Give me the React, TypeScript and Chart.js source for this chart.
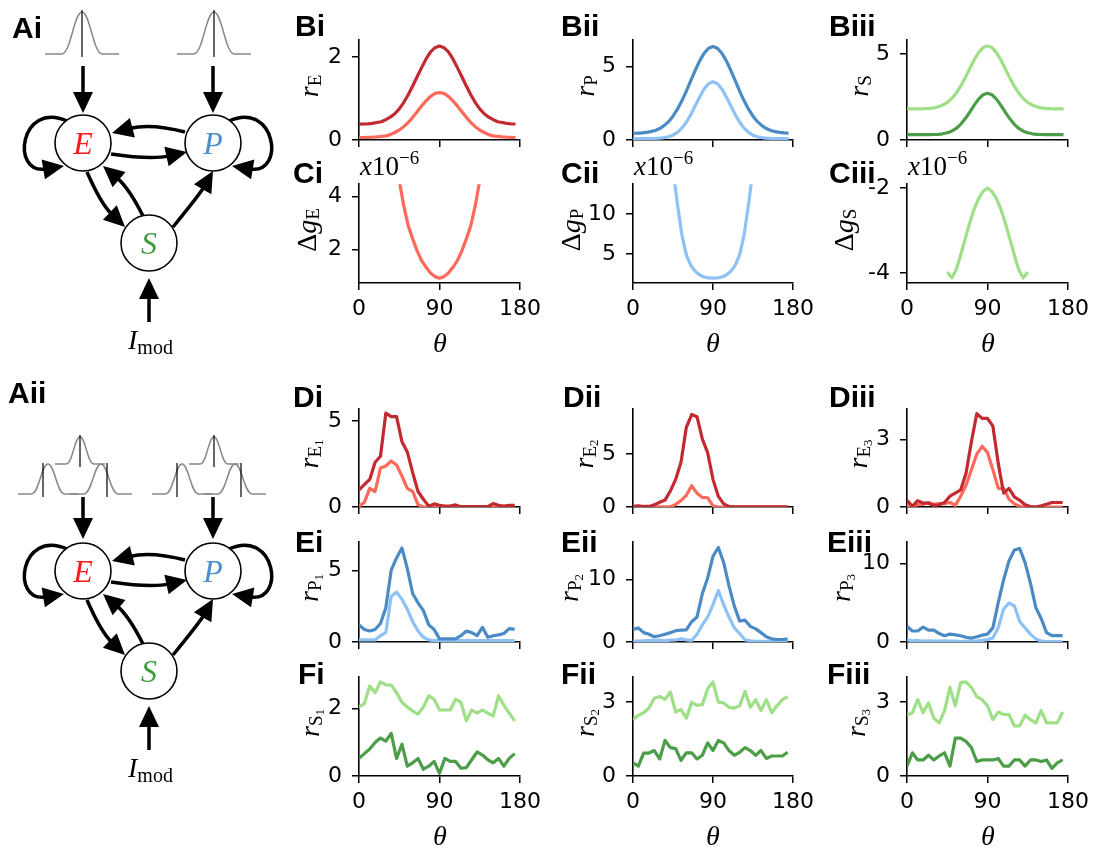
import React, { useEffect, useRef } from 'react';
import { Chart, registerables } from 'chart.js';
Chart.register(...registerables);

// ---------------- data ----------------
const thetaSmooth = [0, 5, 10, 15, 20, 25, 30, 35, 40, 45, 50, 55, 60, 65, 70, 75, 80, 85, 90, 95, 100, 105, 110, 115, 120, 125, 130, 135, 140, 145, 150, 155, 160, 165, 170, 175];
const thetaC = [45, 50, 55, 60, 65, 70, 75, 80, 85, 90, 95, 100, 105, 110, 115, 120, 125, 130, 135];
const thetaN = [0, 6, 12, 18, 24, 30, 36, 42, 48, 54, 60, 66, 72, 78, 84, 90, 96, 102, 108, 114, 120, 126, 132, 138, 144, 150, 156, 162, 168, 174];
const xTicks = [0, 90, 180];

// B: mean responses
const bE_dark = [0.38, 0.385, 0.39, 0.40, 0.42, 0.44, 0.49, 0.55, 0.63, 0.75, 0.90, 1.09, 1.30, 1.52, 1.74, 1.95, 2.12, 2.22, 2.26, 2.22, 2.12, 1.95, 1.74, 1.52, 1.30, 1.09, 0.90, 0.75, 0.63, 0.55, 0.49, 0.44, 0.42, 0.40, 0.39, 0.385];
const bE_light = [0.06, 0.06, 0.065, 0.068, 0.074, 0.085, 0.10, 0.13, 0.18, 0.24, 0.32, 0.42, 0.545, 0.68, 0.82, 0.94, 1.05, 1.12, 1.14, 1.12, 1.05, 0.94, 0.82, 0.68, 0.545, 0.42, 0.32, 0.24, 0.18, 0.13, 0.10, 0.085, 0.074, 0.068, 0.065, 0.06];
const bP_dark = [0.46, 0.47, 0.49, 0.52, 0.57, 0.65, 0.78, 0.98, 1.25, 1.62, 2.10, 2.67, 3.33, 4.04, 4.75, 5.39, 5.91, 6.25, 6.37, 6.25, 5.91, 5.39, 4.75, 4.04, 3.33, 2.67, 2.10, 1.62, 1.25, 0.98, 0.78, 0.65, 0.57, 0.52, 0.49, 0.47];
const bP_light = [0.1, 0.1, 0.1, 0.1, 0.1, 0.11, 0.13, 0.16, 0.22, 0.33, 0.52, 0.81, 1.21, 1.73, 2.33, 2.93, 3.47, 3.84, 3.97, 3.84, 3.47, 2.93, 2.33, 1.73, 1.21, 0.81, 0.52, 0.33, 0.22, 0.16, 0.13, 0.11, 0.1, 0.1, 0.1, 0.1];
const bS_light = [1.81, 1.81, 1.81, 1.81, 1.82, 1.84, 1.87, 1.93, 2.03, 2.18, 2.41, 2.72, 3.13, 3.61, 4.13, 4.65, 5.08, 5.37, 5.47, 5.37, 5.08, 4.65, 4.13, 3.61, 3.13, 2.72, 2.41, 2.18, 2.03, 1.93, 1.87, 1.84, 1.82, 1.81, 1.81, 1.81];
const bS_dark = [0.31, 0.31, 0.31, 0.31, 0.31, 0.315, 0.32, 0.33, 0.36, 0.42, 0.51, 0.67, 0.91, 1.23, 1.61, 2.01, 2.38, 2.63, 2.72, 2.63, 2.38, 2.01, 1.61, 1.23, 0.91, 0.67, 0.51, 0.42, 0.36, 0.33, 0.32, 0.315, 0.31, 0.31, 0.31, 0.31];

// C: conductance changes (x1e-6)
const cE = [4.6, 3.65, 2.9, 2.4, 1.95, 1.58, 1.33, 1.12, 0.98, 0.92, 0.98, 1.12, 1.33, 1.58, 1.95, 2.4, 2.9, 3.65, 4.6];
const cP = [15.5, 11.2, 7.4, 4.9, 3.6, 2.85, 2.4, 2.15, 2.03, 2.0, 2.03, 2.15, 2.4, 2.85, 3.6, 4.9, 7.4, 11.2, 15.5];
const cS = [-3.98, -4.12, -3.93, -3.58, -3.2, -2.83, -2.5, -2.25, -2.08, -2.0, -2.08, -2.25, -2.5, -2.83, -3.2, -3.58, -3.93, -4.12, -3.98];

// D: E responses
const dE1_dark = [0.99, 1.3, 1.6, 2.6, 2.95, 5.45, 5.25, 5.25, 3.8, 3.2, 2.0, 0.9, 0.45, 0.05, 0.18, 0.1, 0.05, 0.05, 0.12, 0.02, 0.02, 0.02, 0.02, 0.02, 0.02, 0.2, 0.1, 0.05, 0.1, 0.1];
const dE1_light = [0.04, 0.27, 1.08, 0.9, 2.26, 2.38, 2.67, 2.44, 1.8, 1.08, 0.9, 0.14, 0, 0, 0, 0, 0, 0, 0, 0, 0, 0, 0, 0, 0, 0, 0, 0, 0, 0];
const dE2_dark = [0.05, 0.12, 0.05, 0.05, 0.2, 0.45, 0.65, 1.5, 2.6, 4.2, 7.5, 8.7, 8.5, 6.4, 5.1, 2.6, 1.0, 0.3, 0.05, 0.02, 0.02, 0.02, 0.02, 0.02, 0.02, 0.02, 0.02, 0.02, 0.02, 0.02];
const dE2_light = [0.02, 0.02, 0.02, 0.02, 0.02, 0.02, 0.02, 0.02, 0.25, 0.6, 1.1, 2.0, 1.3, 0.9, 0.87, 0.1, 0, 0, 0, 0, 0, 0, 0, 0, 0, 0, 0, 0, 0, 0];
const dE3_dark = [0.3, 0.03, 0.28, 0.17, 0.17, 0.07, 0.1, 0.2, 0.48, 0.62, 0.76, 1.5, 2.9, 4.15, 3.94, 3.94, 3.6, 1.94, 0.62, 0.83, 0.45, 0.3, 0.1, 0.02, 0.0, 0.05, 0.12, 0.2, 0.2, 0.2];
const dE3_light = [0.07, 0.05, 0.1, 0.12, 0.2, 0.12, 0.15, 0.15, 0.2, 0.07, 0.48, 0.97, 1.66, 2.35, 2.7, 2.42, 1.66, 0.83, 0.83, 0.35, 0.14, 0.03, 0, 0, 0, 0, 0, 0, 0, 0];

// E: P responses
const eP1_dark = [1.2, 0.88, 0.77, 0.88, 1.3, 2.4, 5.04, 5.9, 6.6, 5.15, 3.4, 2.74, 2.2, 1.2, 0.88, 0.22, 0.22, 0.22, 0.22, 0.44, 0.77, 0.66, 0.44, 1.03, 0.33, 0.44, 0.5, 0.6, 0.94, 0.88];
const eP1_light = [0.15, 0.15, 0.15, 0.15, 0.44, 0.66, 3.2, 3.5, 3.0, 2.3, 1.43, 0.77, 0.33, 0.15, 0.1, 0.1, 0.1, 0.1, 0.1, 0.1, 0.1, 0.1, 0.1, 0.1, 0.1, 0.1, 0.1, 0.1, 0.1, 0.1];
const eP2_dark = [2.0, 2.25, 1.5, 1.25, 0.85, 1.0, 1.25, 1.5, 1.8, 1.9, 1.95, 3.25, 4.0, 7.75, 10.25, 13.75, 15.15, 12.75, 9.0, 5.75, 3.35, 3.5, 2.5, 2.1, 1.5, 0.85, 0.5, 0.4, 0.4, 0.5];
const eP2_light = [0.15, 0.15, 0.2, 0.25, 0.25, 0.3, 0.2, 0.3, 0.35, 0.5, 0.35, 0.25, 1.25, 2.75, 4.0, 6.0, 8.25, 6.0, 4.0, 2.25, 1.35, 0.35, 0.2, 0.1, 0.1, 0.1, 0.1, 0.1, 0.1, 0.1];
const eP3_dark = [2.0, 1.4, 1.4, 1.9, 1.5, 1.5, 1.07, 0.8, 1.0, 0.9, 0.8, 0.6, 0.5, 0.67, 0.87, 1.0, 1.8, 5.0, 7.9, 10.3, 11.7, 11.9, 10.1, 7.5, 4.4, 3.0, 1.2, 0.8, 0.8, 0.8];
const eP3_light = [0.28, 0.15, 0.2, 0.1, 0.15, 0.1, 0.1, 0.15, 0.1, 0.1, 0.05, 0.1, 0.1, 0.15, 0.2, 0.3, 0.5, 1.8, 4.2, 4.96, 4.6, 2.6, 1.8, 1.0, 0.4, 0.1, 0.05, 0.05, 0.05, 0.05];

// F: S responses
const fS1_light = [2.04, 2.14, 2.66, 2.46, 2.78, 2.69, 2.69, 2.46, 2.18, 2.04, 1.92, 1.83, 2.04, 2.37, 2.27, 1.95, 1.95, 1.95, 2.27, 2.18, 1.63, 1.95, 1.86, 1.95, 1.86, 1.77, 2.37, 2.09, 1.86, 1.63];
const fS1_dark = [0.52, 0.66, 0.8, 0.99, 1.12, 1.03, 1.26, 0.52, 0.94, 0.29, 0.39, 0.52, 0.2, 0.29, 0.43, 0.08, 0.52, 0.43, 0.43, 0.23, 0.25, 0.48, 0.71, 0.62, 0.48, 0.39, 0.52, 0.29, 0.52, 0.66];
const fS2_light = [2.28, 2.46, 2.56, 2.75, 3.15, 3.22, 3.1, 3.4, 2.59, 2.69, 2.34, 2.99, 2.86, 2.89, 3.53, 3.81, 2.99, 2.96, 2.78, 2.75, 2.84, 3.43, 2.78, 3.09, 2.65, 3.09, 2.56, 2.84, 3.09, 3.21];
const fS2_dark = [0.53, 0.4, 0.93, 0.93, 1.03, 0.69, 1.44, 1.15, 1.11, 0.63, 0.94, 0.94, 0.69, 0.84, 1.34, 1.03, 1.44, 1.34, 1.03, 0.84, 0.96, 1.15, 1.03, 0.84, 1.03, 0.71, 0.81, 0.81, 0.81, 0.96];
const fS3_light = [2.46, 2.56, 3.09, 2.56, 2.96, 2.34, 2.15, 2.65, 3.59, 2.84, 3.78, 3.81, 3.59, 3.21, 3.09, 2.84, 2.28, 2.59, 2.49, 2.49, 2.03, 2.03, 2.46, 2.28, 2.15, 2.65, 2.15, 2.15, 2.15, 2.59];
const fS3_dark = [0.4, 0.94, 0.65, 0.65, 0.84, 0.65, 0.81, 0.94, 0.4, 1.53, 1.53, 1.4, 1.15, 0.59, 0.65, 0.65, 0.65, 0.71, 0.4, 0.4, 0.65, 0.65, 0.4, 0.65, 0.65, 0.59, 0.65, 0.31, 0.53, 0.65];

// ---------------- styles ----------------
const DARK_RED = '#c22a30';
const LIGHT_RED = '#fd6a5c';
const DARK_BLUE = '#4a8bc5';
const LIGHT_BLUE = '#8dc2f7';
const DARK_GREEN = '#4c9d48';
const LIGHT_GREEN = '#9fdf87';

const SERIF = '"Liberation Serif", "Times New Roman", serif';
const SANS = '"Liberation Sans", Arial, sans-serif';
const TICK_FONT = { family: '"DejaVu Sans", sans-serif', size: 22 };

const COLS = [{ l: 359, r: 520 }, { l: 633, r: 793 }, { l: 907, r: 1068 }];
const ROWS: Record<string, { t: number; b: number }> = {
  B: { t: 33, b: 140 }, C: { t: 177, b: 283 }, D: { t: 402, b: 507 }, E: { t: 535, b: 642 }, F: { t: 670, b: 776 },
};
const YW = 80, PR = 30, PT = 16, XH = 45;

type Series = { x: number[]; y: number[]; color: string };
type Spec = { col: number; row: string; series: Series[]; yMin: number; yMax: number; yTicks: number[]; xLabels: boolean };

const PANELS: Spec[] = [
  { col: 0, row: 'B', series: [{ x: thetaSmooth, y: bE_dark, color: DARK_RED }, { x: thetaSmooth, y: bE_light, color: LIGHT_RED }], yMin: 0, yMax: 2.4, yTicks: [0, 2], xLabels: false },
  { col: 1, row: 'B', series: [{ x: thetaSmooth, y: bP_dark, color: DARK_BLUE }, { x: thetaSmooth, y: bP_light, color: LIGHT_BLUE }], yMin: 0, yMax: 6.8, yTicks: [0, 5], xLabels: false },
  { col: 2, row: 'B', series: [{ x: thetaSmooth, y: bS_dark, color: DARK_GREEN }, { x: thetaSmooth, y: bS_light, color: LIGHT_GREEN }], yMin: 0, yMax: 5.8, yTicks: [0, 5], xLabels: false },
  { col: 0, row: 'C', series: [{ x: thetaC, y: cE, color: LIGHT_RED }], yMin: 0.74, yMax: 4.46, yTicks: [2, 4], xLabels: true },
  { col: 1, row: 'C', series: [{ x: thetaC, y: cP, color: LIGHT_BLUE }], yMin: 1.4, yMax: 13.7, yTicks: [5, 10], xLabels: true },
  { col: 2, row: 'C', series: [{ x: thetaC, y: cS, color: LIGHT_GREEN }], yMin: -4.24, yMax: -1.91, yTicks: [-4, -2], xLabels: true },
  { col: 0, row: 'D', series: [{ x: thetaN, y: dE1_dark, color: DARK_RED }, { x: thetaN, y: dE1_light, color: LIGHT_RED }], yMin: 0, yMax: 5.68, yTicks: [0, 5], xLabels: false },
  { col: 1, row: 'D', series: [{ x: thetaN, y: dE2_dark, color: DARK_RED }, { x: thetaN, y: dE2_light, color: LIGHT_RED }], yMin: 0, yMax: 9.2, yTicks: [0, 5], xLabels: false },
  { col: 2, row: 'D', series: [{ x: thetaN, y: dE3_dark, color: DARK_RED }, { x: thetaN, y: dE3_light, color: LIGHT_RED }], yMin: 0, yMax: 4.35, yTicks: [0, 3], xLabels: false },
  { col: 0, row: 'E', series: [{ x: thetaN, y: eP1_dark, color: DARK_BLUE }, { x: thetaN, y: eP1_light, color: LIGHT_BLUE }], yMin: 0, yMax: 7.0, yTicks: [0, 5], xLabels: false },
  { col: 1, row: 'E', series: [{ x: thetaN, y: eP2_dark, color: DARK_BLUE }, { x: thetaN, y: eP2_light, color: LIGHT_BLUE }], yMin: 0, yMax: 16, yTicks: [0, 10], xLabels: false },
  { col: 2, row: 'E', series: [{ x: thetaN, y: eP3_dark, color: DARK_BLUE }, { x: thetaN, y: eP3_light, color: LIGHT_BLUE }], yMin: 0, yMax: 12.7, yTicks: [0, 10], xLabels: false },
  { col: 0, row: 'F', series: [{ x: thetaN, y: fS1_dark, color: DARK_GREEN }, { x: thetaN, y: fS1_light, color: LIGHT_GREEN }], yMin: 0, yMax: 2.92, yTicks: [0, 2], xLabels: true },
  { col: 1, row: 'F', series: [{ x: thetaN, y: fS2_dark, color: DARK_GREEN }, { x: thetaN, y: fS2_light, color: LIGHT_GREEN }], yMin: 0, yMax: 4.0, yTicks: [0, 3], xLabels: true },
  { col: 2, row: 'F', series: [{ x: thetaN, y: fS3_dark, color: DARK_GREEN }, { x: thetaN, y: fS3_light, color: LIGHT_GREEN }], yMin: 0, yMax: 4.0, yTicks: [0, 3], xLabels: true },
];

const GRID = { drawOnChartArea: false, drawTicks: true, tickLength: 7, color: '#000', lineWidth: 1.5 };
const BORDER = { display: true, color: '#000', width: 1.6 };

function Panel({ spec }: { spec: Spec }) {
  const ref = useRef<HTMLCanvasElement>(null);
  const c = COLS[spec.col];
  const r = ROWS[spec.row];
  const w = YW + (c.r - c.l) + PR;
  const h = PT + (r.b - r.t) + XH;
  useEffect(() => {
    const chart = new Chart(ref.current as HTMLCanvasElement, {
      type: 'line',
      data: {
        datasets: spec.series.map((s) => ({
          data: s.x.map((x, i) => ({ x, y: s.y[i] })),
          borderColor: s.color,
          borderWidth: 3.2,
          pointRadius: 0,
          tension: 0,
          fill: false,
          clip: 0,
          borderJoinStyle: 'round' as const,
        })),
      },
      options: {
        animation: false,
        responsive: false,
        events: [],
        layout: { padding: { top: PT, right: PR, left: 0, bottom: 0 } },
        plugins: { legend: { display: false }, tooltip: { enabled: false } },
        scales: {
          x: {
            type: 'linear', min: 0, max: 180,
            afterBuildTicks: (s: any) => { s.ticks = xTicks.map((v) => ({ value: v })); },
            afterFit: (s: any) => { s.height = XH; },
            grid: GRID, border: BORDER,
            ticks: { display: spec.xLabels, autoSkip: false, maxRotation: 0, padding: 6, color: '#000', font: TICK_FONT },
          },
          y: {
            type: 'linear', min: spec.yMin, max: spec.yMax,
            afterBuildTicks: (s: any) => { s.ticks = spec.yTicks.map((v) => ({ value: v })); },
            afterFit: (s: any) => { s.width = YW; },
            grid: GRID, border: BORDER,
            ticks: { autoSkip: false, padding: 10, color: '#000', font: TICK_FONT },
          },
        },
      } as any,
    });
    return () => chart.destroy();
  }, []);
  return <canvas ref={ref} width={w} height={h} style={{ position: 'absolute', left: c.l - YW, top: r.t - PT, width: w, height: h }} />;
}

// ---------------- diagram helpers ----------------
function head(tx: number, ty: number, fx: number, fy: number, len = 21, hw = 10) {
  const dx = tx - fx, dy = ty - fy;
  const d = Math.hypot(dx, dy) || 1;
  const ux = dx / d, uy = dy / d;
  const bx = tx - ux * len, by = ty - uy * len;
  const nx = -uy, ny = ux;
  return {
    pts: `${tx},${ty} ${bx + nx * hw},${by + ny * hw} ${bx - nx * hw},${by - ny * hw}`,
    ex: tx - ux * (len - 3), ey: ty - uy * (len - 3),
  };
}

function QArrow({ s, c, t, oy }: { s: number[]; c: number[]; t: number[]; oy: number }) {
  const h = head(t[0], t[1] + oy, c[0], c[1] + oy);
  return (
    <g>
      <path d={`M ${s[0]} ${s[1] + oy} Q ${c[0]} ${c[1] + oy} ${h.ex} ${h.ey}`} fill="none" stroke="#000" strokeWidth={3.5} />
      <polygon points={h.pts} fill="#000" />
    </g>
  );
}

function CArrow({ p0, p1, p2, t, oy }: { p0: number[]; p1: number[]; p2: number[]; t: number[]; oy: number }) {
  const h = head(t[0], t[1] + oy, p2[0], p2[1] + oy);
  return (
    <g>
      <path d={`M ${p0[0]} ${p0[1] + oy} C ${p1[0]} ${p1[1] + oy} ${p2[0]} ${p2[1] + oy} ${h.ex} ${h.ey}`} fill="none" stroke="#000" strokeWidth={3.5} />
      <polygon points={h.pts} fill="#000" />
    </g>
  );
}

function bump(cx: number, base: number, top: number, hw: number) {
  return `M ${cx - hw} ${base} L ${cx - hw * 0.55} ${base} C ${cx - hw * 0.3} ${base} ${cx - hw * 0.22} ${top} ${cx} ${top} C ${cx + hw * 0.22} ${top} ${cx + hw * 0.3} ${base} ${cx + hw * 0.55} ${base} L ${cx + hw} ${base}`;
}

function Network({ oy, aTop, aTip }: { oy: number; aTop: number; aTip: number }) {
  const nodes = [
    { x: 83, y: 143, l: 'E', c: '#ff1a1a' },
    { x: 213, y: 143, l: 'P', c: '#4b8fcc' },
    { x: 149, y: 243, l: 'S', c: '#3f9a3f' },
  ];
  return (
    <g>
      <QArrow s={[83, aTop]} c={[83, 90]} t={[83, aTip]} oy={oy} />
      <QArrow s={[213, aTop]} c={[213, 90]} t={[213, aTip]} oy={oy} />
      <QArrow s={[185, 132]} c={[151, 123]} t={[112, 133]} oy={oy} />
      <QArrow s={[111, 154]} c={[151, 160]} t={[187, 152]} oy={oy} />
      <QArrow s={[87, 172]} c={[101, 204]} t={[125, 227]} oy={oy} />
      <QArrow s={[143, 216]} c={[129, 188]} t={[103, 166]} oy={oy} />
      <QArrow s={[173, 227]} c={[200, 194]} t={[213, 171]} oy={oy} />
      <QArrow s={[149, 322]} c={[149, 300]} t={[149, 278]} oy={oy} />
      <CArrow p0={[67, 121]} p1={[20, 100]} p2={[10, 175]} t={[64, 166]} oy={oy} />
      <CArrow p0={[229, 121]} p1={[276, 100]} p2={[286, 175]} t={[232, 166]} oy={oy} />
      {nodes.map((n) => (
        <g key={n.l}>
          <circle cx={n.x} cy={n.y + oy} r={28} fill="#fff" stroke="#000" strokeWidth={1.6} />
          <text x={n.x} y={n.y + oy} textAnchor="middle" dominantBaseline="central" fontFamily={SERIF} fontStyle="italic" fontSize={32} fill={n.c}>{n.l}</text>
        </g>
      ))}
      <text x={128} y={349 + oy} fontFamily={SERIF} fontSize={28}>
        <tspan fontStyle="italic">I</tspan>
        <tspan fontSize={20} dy={5}>mod</tspan>
      </text>
    </g>
  );
}

// ---------------- text overlays ----------------
const PANEL_LABELS = [
  ['Ai', 12, 38], ['Aii', 8, 403],
  ['Bi', 295, 36], ['Bii', 561, 36], ['Biii', 829, 36],
  ['Ci', 293, 183], ['Cii', 561, 183], ['Ciii', 829, 183],
  ['Di', 293, 407], ['Dii', 563, 407], ['Diii', 829, 407],
  ['Ei', 295, 552], ['Eii', 561, 552], ['Eiii', 827, 552],
  ['Fi', 298, 684], ['Fii', 561, 684], ['Fiii', 827, 684],
] as const;

const Y_TITLES = [
  { cx: 308, cy: 86, d: false, m: 'r', s: 'E', ss: '' },
  { cx: 584, cy: 86, d: false, m: 'r', s: 'P', ss: '' },
  { cx: 858, cy: 86, d: false, m: 'r', s: 'S', ss: '' },
  { cx: 306, cy: 230, d: true, m: 'g', s: 'E', ss: '' },
  { cx: 570, cy: 230, d: true, m: 'g', s: 'P', ss: '' },
  { cx: 843, cy: 230, d: true, m: 'g', s: 'S', ss: '' },
  { cx: 308, cy: 454, d: false, m: 'r', s: 'E', ss: '1' },
  { cx: 583, cy: 454, d: false, m: 'r', s: 'E', ss: '2' },
  { cx: 857, cy: 454, d: false, m: 'r', s: 'E', ss: '3' },
  { cx: 308, cy: 588, d: false, m: 'r', s: 'P', ss: '1' },
  { cx: 568, cy: 588, d: false, m: 'r', s: 'P', ss: '2' },
  { cx: 840, cy: 588, d: false, m: 'r', s: 'P', ss: '3' },
  { cx: 309, cy: 723, d: false, m: 'r', s: 'S', ss: '1' },
  { cx: 584, cy: 723, d: false, m: 'r', s: 'S', ss: '2' },
  { cx: 855, cy: 723, d: false, m: 'r', s: 'S', ss: '3' },
];

function Overlay() {
  return (
    <svg width={1096} height={847} style={{ position: 'absolute', left: 0, top: 0, pointerEvents: 'none' }}>
      {/* Ai tuning insets */}
      <path d={bump(82, 54, 12, 37)} fill="none" stroke="#888" strokeWidth={1.5} />
      <path d={bump(214, 54, 12, 37)} fill="none" stroke="#888" strokeWidth={1.5} />
      <line x1={82} y1={10} x2={82} y2={57} stroke="#000" strokeWidth={1.2} />
      <line x1={214} y1={10} x2={214} y2={57} stroke="#000" strokeWidth={1.2} />
      {/* Aii tuning insets */}
      {[0, 134].map((dx) => (
        <g key={dx}>
          <path d={bump(48 + dx, 494, 464, 30)} fill="none" stroke="#888" strokeWidth={1.5} />
          <path d={bump(80 + dx, 464, 437, 25)} fill="none" stroke="#888" strokeWidth={1.5} />
          <path d={bump(101 + dx, 494, 464, 31)} fill="none" stroke="#888" strokeWidth={1.5} />
          <line x1={43 + dx} y1={463} x2={43 + dx} y2={497} stroke="#000" strokeWidth={1.2} />
          <line x1={80 + dx} y1={435} x2={80 + dx} y2={467} stroke="#000" strokeWidth={1.2} />
          <line x1={107 + dx} y1={463} x2={107 + dx} y2={497} stroke="#000" strokeWidth={1.2} />
        </g>
      ))}
      <Network oy={0} aTop={66} aTip={113} />
      <Network oy={428} aTop={69} aTip={111} />

      {PANEL_LABELS.map(([t, x, y]) => (
        <text key={t} x={x} y={y} fontFamily={SANS} fontWeight="bold" fontSize={30} fill="#000">{t}</text>
      ))}

      {Y_TITLES.map((t, i) => (
        <text key={i} transform={`translate(${t.cx} ${t.cy}) rotate(-90)`} textAnchor="middle" dominantBaseline="central" fontFamily={SERIF} fontSize={28} fill="#000">
          {t.d ? <tspan>Δ</tspan> : null}
          <tspan fontStyle="italic">{t.m}</tspan>
          <tspan fontSize={19} dy={6}>{t.s}</tspan>
          {t.ss ? <tspan fontSize={13} dy={4}>{t.ss}</tspan> : null}
        </text>
      ))}

      {[440, 713, 988].map((x) => (
        <g key={x}>
          <text x={x} y={352} textAnchor="middle" fontFamily={SERIF} fontStyle="italic" fontSize={28}>θ</text>
          <text x={x} y={845} textAnchor="middle" fontFamily={SERIF} fontStyle="italic" fontSize={28}>θ</text>
        </g>
      ))}

      {[360, 634, 908].map((x) => (
        <text key={x} x={x} y={175} fontFamily={SERIF} fontSize={27}>
          <tspan fontStyle="italic">x</tspan>
          <tspan>10</tspan>
          <tspan fontSize={19} dy={-11}>−6</tspan>
        </text>
      ))}
    </svg>
  );
}

export default function App() {
  return (
    <div style={{ position: 'absolute', left: 0, top: 0, width: 1096, height: 847, background: '#fff', overflow: 'hidden' }}>
      {PANELS.map((p, i) => <Panel key={i} spec={p} />)}
      <Overlay />
    </div>
  );
}
